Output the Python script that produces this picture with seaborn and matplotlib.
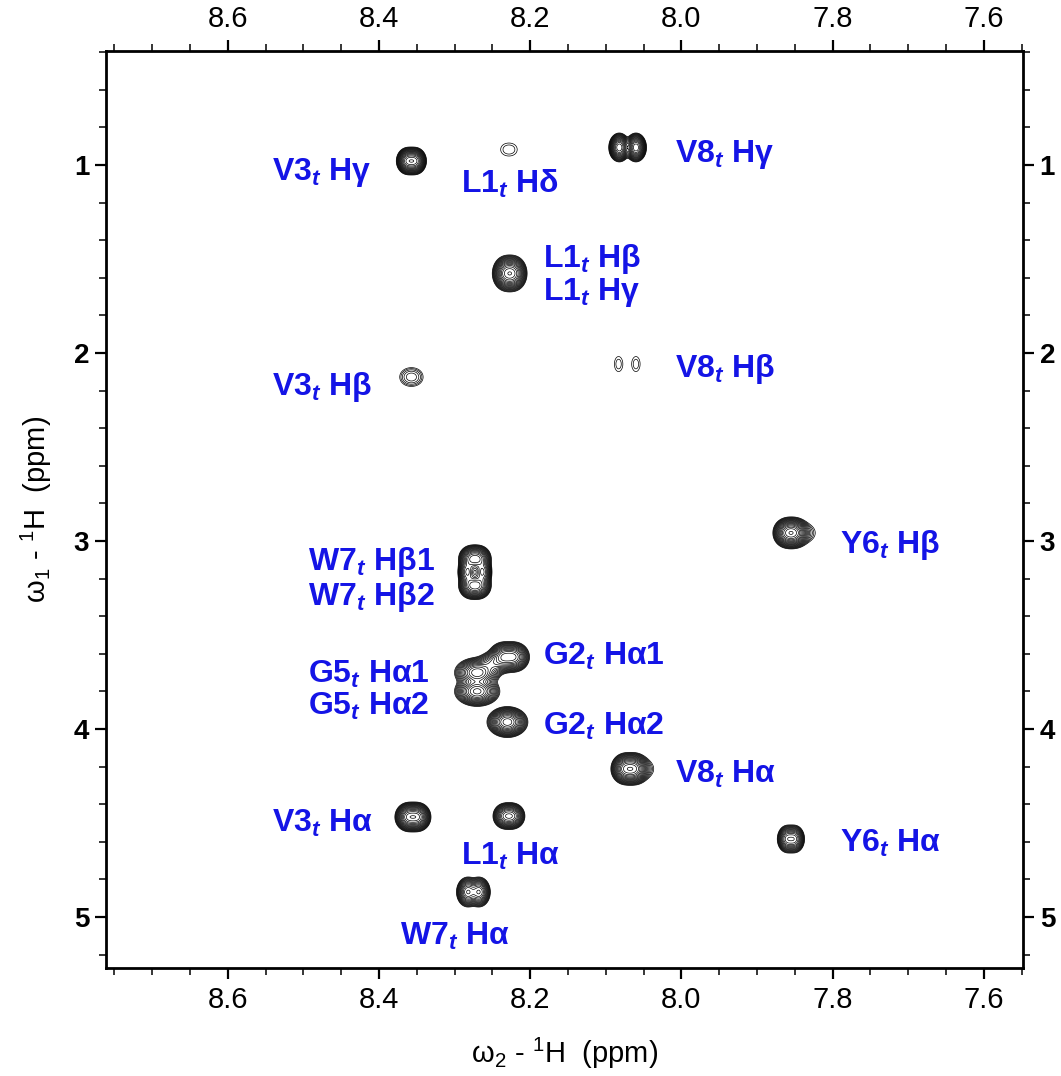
import numpy as np
import matplotlib
matplotlib.use("Agg")
import matplotlib.pyplot as plt
import seaborn as sns
from matplotlib.ticker import MultipleLocator, FormatStrFormatter

sns.set_style("ticks")
plt.rcParams['font.family'] = ['Liberation Sans', 'DejaVu Sans']
plt.rcParams['mathtext.fontset'] = 'custom'
plt.rcParams['mathtext.rm'] = 'Liberation Sans'
plt.rcParams['mathtext.it'] = 'Liberation Sans:italic:bold'
plt.rcParams['mathtext.bf'] = 'Liberation Sans:bold'
for k in ['text.color', 'axes.labelcolor', 'xtick.color', 'ytick.color',
          'axes.edgecolor']:
    plt.rcParams[k] = 'black'

# ---------------- data ----------------
# cross-peak components: omega2 (ppm), omega1 (ppm), intensity (x lowest contour),
# outer-contour extent along omega2 / omega1 (ppm), doublet splitting along omega2 (ppm)
peak_w2 = [8.357, 8.228, 8.227, 8.071, 8.357, 8.0715, 7.855, 7.836,
           8.273, 8.273, 8.273, 8.270, 8.270, 8.228, 8.249, 8.230,
           8.068, 8.050, 8.355, 8.228, 8.275, 7.855]
peak_w1 = [0.979, 0.918, 1.577, 0.907, 2.128, 2.059, 2.957, 2.957,
           3.095, 3.165, 3.237, 3.70, 3.80, 3.617, 3.650, 3.963,
           4.212, 4.212, 4.468, 4.463, 4.867, 4.585]
peak_int = [60, 1.6, 60, 45, 3.2, 1.5, 60, 2.2,
            45, 30, 45, 35, 40, 45, 12, 55,
            60, 2.2, 60, 40, 30, 30]
peak_ext2 = [0.041, 0.028, 0.048, 0.050, 0.036, 0.034, 0.050, 0.026,
             0.045, 0.045, 0.045, 0.060, 0.060, 0.056, 0.040, 0.057,
             0.052, 0.026, 0.049, 0.044, 0.045, 0.037]
peak_ext1 = [0.149, 0.069, 0.197, 0.154, 0.100, 0.080, 0.170, 0.090,
             0.150, 0.150, 0.150, 0.160, 0.160, 0.165, 0.120, 0.165,
             0.175, 0.090, 0.160, 0.144, 0.160, 0.150]
peak_split = [0.010, 0.012, 0.010, 0.022, 0.010, 0.023, 0.010, 0.0,
              0.010, 0.020, 0.010, 0.0, 0.0, 0.014, 0.0, 0.004,
              0.012, 0.0, 0.012, 0.010, 0.015, 0.010]

# assignment labels
label_res = ["V3", "L1", "V8", "L1", "L1", "V3", "V8", "Y6", "W7", "W7",
             "G5", "G5", "G2", "G2", "V8", "V3", "L1", "Y6", "W7"]
label_atom = ["Hγ", "Hδ", "Hγ", "Hβ", "Hγ", "Hβ", "Hβ", "Hβ", "Hβ1", "Hβ2",
              "Hα1", "Hα2", "Hα1", "Hα2", "Hα", "Hα", "Hα", "Hα", "Hα"]
label_w2 = [8.542, 8.292, 8.009, 8.183, 8.183, 8.542, 8.009, 7.790, 8.494, 8.494,
            8.494, 8.494, 8.183, 8.183, 8.009, 8.542, 8.292, 7.790, 8.372]
label_w1 = [1.080, 1.149, 0.984, 1.545, 1.720, 2.223, 2.128, 3.064, 3.154, 3.340,
            3.755, 3.926, 3.660, 4.032, 4.287, 4.548, 4.723, 4.654, 5.149]

x_ticks = [8.6, 8.4, 8.2, 8.0, 7.8, 7.6]
y_ticks = [1, 2, 3, 4, 5]
x_range = (8.761, 7.548)
y_range = (5.271, 0.394)

# ---------------- spectrum surface ----------------
w2 = np.linspace(x_range[1], x_range[0], 1500)
w1 = np.linspace(y_range[1], y_range[0], 1700)
Z = np.zeros((w1.size, w2.size))
for cx, cy, a, e2, e1, d in zip(peak_w2, peak_w1, peak_int, peak_ext2,
                                 peak_ext1, peak_split):
    r = np.sqrt(2 * np.log(a))
    sx = max(e2 / 2 - d / 2, 0.002) / r
    sy = (e1 / 2) / r
    gx = (np.exp(-(w2 - cx - d / 2) ** 2 / (2 * sx ** 2)) +
          np.exp(-(w2 - cx + d / 2) ** 2 / (2 * sx ** 2)))
    gx /= gx.max()
    gy = np.exp(-(w1 - cy) ** 2 / (2 * sy ** 2))
    Z += a * np.outer(gy, gx)

levels = 1.0 * 1.27 ** np.arange(0, 30)

# ---------------- figure ----------------
fig = plt.figure(figsize=(10.61, 10.76), dpi=100)
ax = fig.add_axes([0.0999, 0.1004, 0.8643, 0.8522])
ax.contour(w2, w1, Z, levels=levels, colors="black", linewidths=0.5)

blue = "#1414e6"
for res, atom, lx, ly in zip(label_res, label_atom, label_w2, label_w1):
    ax.text(lx, ly, res + r"$_{\mathit{t}}$ " + atom, color=blue,
            fontsize=23, fontweight="bold", ha="left", va="baseline")

ax.set_xlim(*x_range)
ax.set_ylim(*y_range)
ax.set_xticks(x_ticks)
ax.set_yticks(y_ticks)
ax.xaxis.set_minor_locator(MultipleLocator(0.05))
ax.yaxis.set_minor_locator(MultipleLocator(0.2))
ax.xaxis.set_major_formatter(FormatStrFormatter("%.1f"))
ax.tick_params(which="both", direction="out", top=True, right=True,
               labeltop=True, labelright=True, color="black",
               labelcolor="black")
ax.tick_params(which="major", length=8, width=1.6)
ax.tick_params(which="minor", length=5, width=1.1)
ax.tick_params(axis="x", labelsize=21, pad=5)
ax.tick_params(axis="y", labelsize=20, pad=4)
for lab in ax.get_yticklabels():
    lab.set_fontweight("bold")
for s in ax.spines.values():
    s.set_linewidth(2.0)
    s.set_color("black")

ax.set_xlabel(r"$\mathregular{\omega_2}$ - $\mathregular{^1}$H  (ppm)",
              fontsize=21, labelpad=16)
ax.set_ylabel(r"$\mathregular{\omega_1}$ - $\mathregular{^1}$H  (ppm)",
              fontsize=21, labelpad=14)

fig.savefig("out.png", dpi=100)
